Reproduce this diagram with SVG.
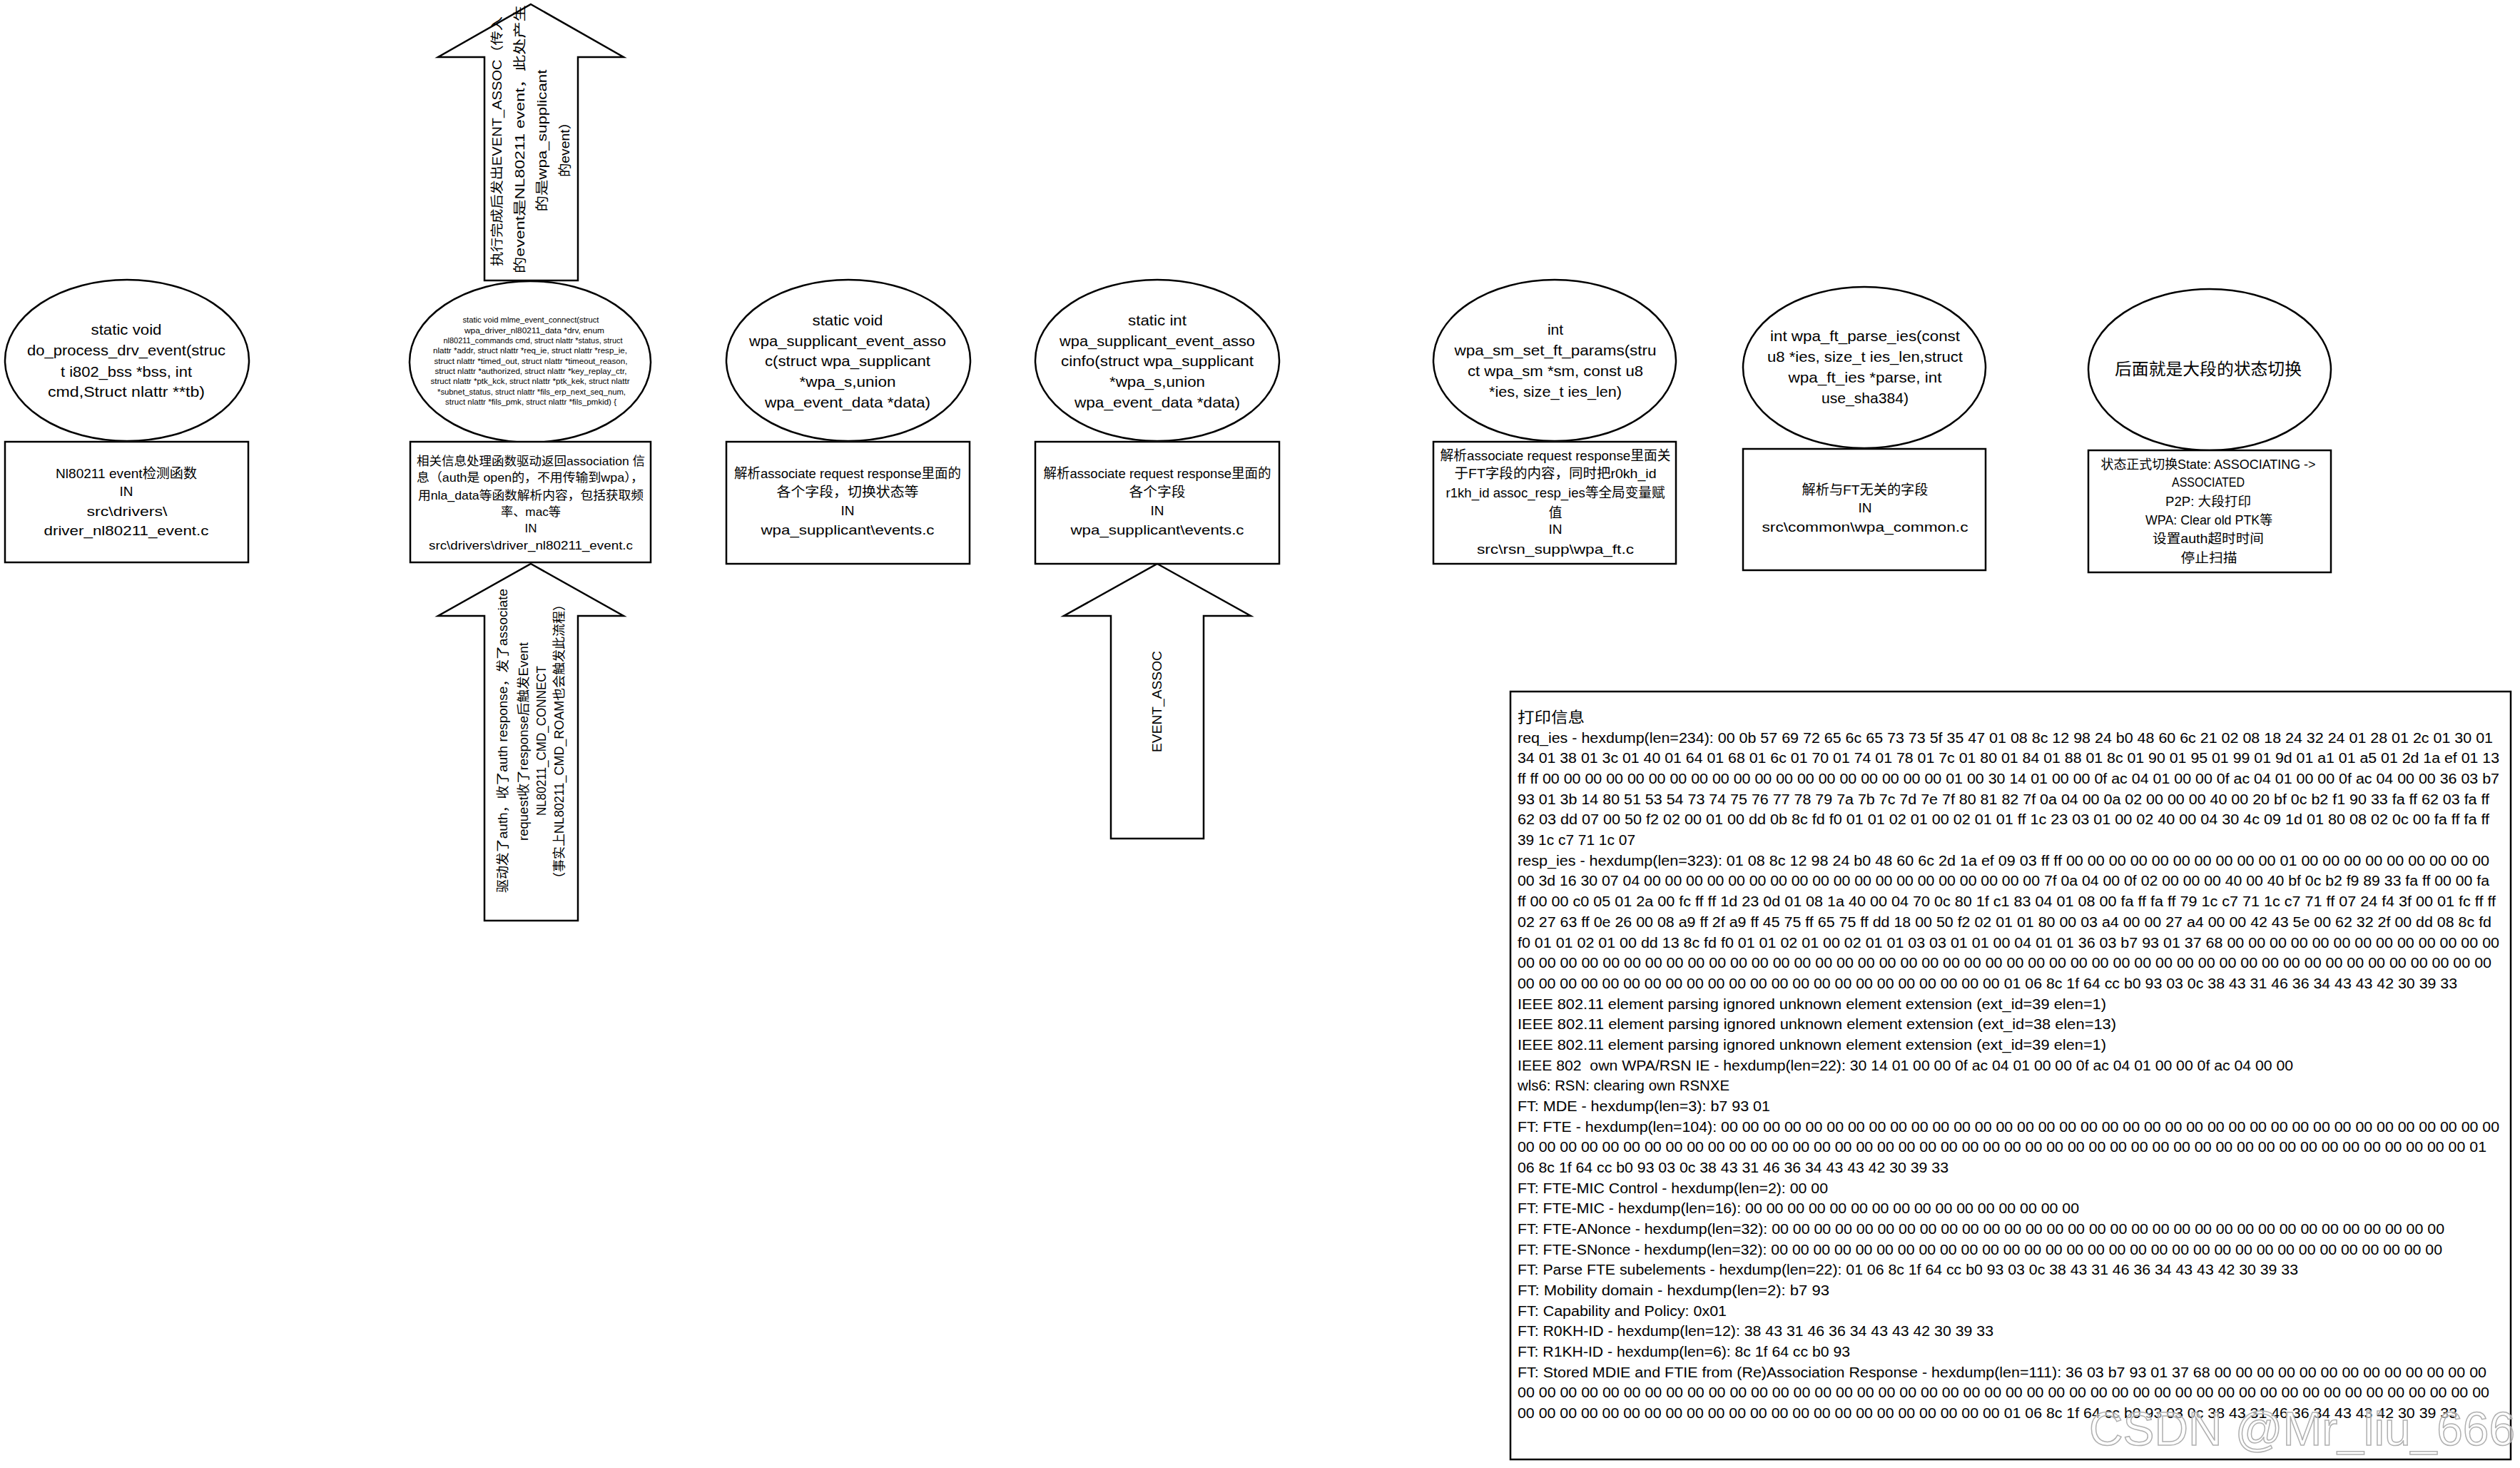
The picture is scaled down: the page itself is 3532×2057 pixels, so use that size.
<svg xmlns="http://www.w3.org/2000/svg" width="3532" height="2057" viewBox="0 0 3532 2057">
<style>
.sh{fill:#fff;stroke:#000;stroke-width:2.5}
text{font-family:"Liberation Sans","Noto Sans CJK SC",sans-serif;fill:#000}
.c{text-anchor:middle}
.e{font-size:21px}
.b{font-size:19px}
.s{font-size:11px}
.r{font-size:18px;text-anchor:middle;dominant-baseline:central}
.m{font-size:20px}
</style>
<rect width="3532" height="2057" fill="#fff"/>

<g id="connectors">
  <g id="arrow-up-top">
    <polygon class="sh" points="744,6 874,80 810,80 810,393 679,393 679,80 614,80"/>
    <text class="r" transform="translate(697,198) rotate(-90)" textLength="350" lengthAdjust="spacingAndGlyphs">执行完成后发出EVENT_ASSOC（传入</text>
    <text class="r" transform="translate(729,195) rotate(-90)" textLength="376" lengthAdjust="spacingAndGlyphs">的event是NL80211 event，此处产生</text>
    <text class="r" transform="translate(760,197) rotate(-90)" textLength="199" lengthAdjust="spacingAndGlyphs">的是wpa_supplicant</text>
    <text class="r" transform="translate(792,205) rotate(-90)" textLength="86" lengthAdjust="spacingAndGlyphs">的event）</text>
  </g>
  <g id="arrow-up-connect">
    <polygon class="sh" points="744,790 874,863 810,863 810,1290 679,1290 679,863 614,863"/>
    <text class="r" transform="translate(705,1038) rotate(-90)" textLength="426" lengthAdjust="spacingAndGlyphs">驱动发了auth，收了auth response，发了associate</text>
    <text class="r" transform="translate(734,1039) rotate(-90)" textLength="278" lengthAdjust="spacingAndGlyphs">request收了response后触发Event</text>
    <text class="r" transform="translate(759,1038) rotate(-90)" textLength="210" lengthAdjust="spacingAndGlyphs">NL80211_CMD_CONNECT</text>
    <text class="r" transform="translate(784,1039) rotate(-90)" textLength="402" lengthAdjust="spacingAndGlyphs">（事实上NL80211_CMD_ROAM也会触发此流程）</text>
  </g>
  <g id="arrow-up-assoc">
    <polygon class="sh" points="1622,790 1753,863 1687,863 1687,1175 1557,1175 1557,863 1491,863"/>
    <text class="r" transform="translate(1622,983) rotate(-90)" textLength="142" lengthAdjust="spacingAndGlyphs">EVENT_ASSOC</text>
  </g>
</g>

<g id="node-do-process">
  <ellipse class="sh" cx="178" cy="505" rx="171" ry="113"/>
  <text class="e c" x="177" y="469" textLength="99" lengthAdjust="spacingAndGlyphs">static void</text>
  <text class="e c" x="177" y="498" textLength="278" lengthAdjust="spacingAndGlyphs">do_process_drv_event(struc</text>
  <text class="e c" x="177" y="528" textLength="184" lengthAdjust="spacingAndGlyphs">t i802_bss *bss, int</text>
  <text class="e c" x="177" y="556" textLength="220" lengthAdjust="spacingAndGlyphs">cmd,Struct nlattr **tb)</text>
</g>
<g id="box-do-process">
  <rect class="sh" x="7" y="619" width="341" height="169"/>
  <text class="b c" x="177" y="670" textLength="198" lengthAdjust="spacingAndGlyphs">Nl80211 event检测函数</text>
  <text class="b c" x="177" y="695">IN</text>
  <text class="b c" x="178" y="723" textLength="113" lengthAdjust="spacingAndGlyphs">src\drivers\</text>
  <text class="b c" x="177" y="750" textLength="231" lengthAdjust="spacingAndGlyphs">driver_nl80211_event.c</text>
</g>

<g id="node-mlme-connect">
  <ellipse class="sh" cx="743" cy="507" rx="169" ry="113"/>
  <text class="s c" x="744" y="452" textLength="191" lengthAdjust="spacingAndGlyphs">static void mlme_event_connect(struct</text>
  <text class="s c" x="749" y="467" textLength="196" lengthAdjust="spacingAndGlyphs">wpa_driver_nl80211_data *drv, enum</text>
  <text class="s c" x="747" y="481" textLength="251" lengthAdjust="spacingAndGlyphs">nl80211_commands cmd, struct nlattr *status, struct</text>
  <text class="s c" x="743" y="495" textLength="272" lengthAdjust="spacingAndGlyphs">nlattr *addr, struct nlattr *req_ie, struct nlattr *resp_ie,</text>
  <text class="s c" x="744" y="510" textLength="271" lengthAdjust="spacingAndGlyphs">struct nlattr *timed_out, struct nlattr *timeout_reason,</text>
  <text class="s c" x="744" y="524" textLength="269" lengthAdjust="spacingAndGlyphs">struct nlattr *authorized, struct nlattr *key_replay_ctr,</text>
  <text class="s c" x="743" y="538" textLength="279" lengthAdjust="spacingAndGlyphs">struct nlattr *ptk_kck, struct nlattr *ptk_kek, struct nlattr</text>
  <text class="s c" x="745" y="553" textLength="264" lengthAdjust="spacingAndGlyphs">*subnet_status, struct nlattr *fils_erp_next_seq_num,</text>
  <text class="s c" x="744" y="567" textLength="240" lengthAdjust="spacingAndGlyphs">struct nlattr *fils_pmk, struct nlattr *fils_pmkid) {</text>
</g>
<g id="box-mlme-connect">
  <rect class="sh" x="575" y="619" width="337" height="169"/>
  <text class="c" style="font-size:17px" x="744" y="652" textLength="320" lengthAdjust="spacingAndGlyphs">相关信息处理函数驱动返回association 信</text>
  <text class="c" style="font-size:17px" x="743" y="675" textLength="318" lengthAdjust="spacingAndGlyphs">息（auth是 open的，不用传输到wpa），</text>
  <text class="c" style="font-size:17px" x="744" y="700" textLength="316" lengthAdjust="spacingAndGlyphs">用nla_data等函数解析内容，包括获取频</text>
  <text class="c" style="font-size:17px" x="744" y="723" textLength="84" lengthAdjust="spacingAndGlyphs">率、mac等</text>
  <text class="c" style="font-size:17px" x="744" y="746">IN</text>
  <text class="c" style="font-size:17px" x="744" y="770" textLength="286" lengthAdjust="spacingAndGlyphs">src\drivers\driver_nl80211_event.c</text>
</g>

<g id="node-event-assoc">
  <ellipse class="sh" cx="1189" cy="505" rx="171" ry="113"/>
  <text class="e c" x="1188" y="456" textLength="99" lengthAdjust="spacingAndGlyphs">static void</text>
  <text class="e c" x="1188" y="485" textLength="276" lengthAdjust="spacingAndGlyphs">wpa_supplicant_event_asso</text>
  <text class="e c" x="1188" y="513" textLength="232" lengthAdjust="spacingAndGlyphs">c(struct wpa_supplicant</text>
  <text class="e c" x="1188" y="542" textLength="135" lengthAdjust="spacingAndGlyphs">*wpa_s,union</text>
  <text class="e c" x="1188" y="571" textLength="232" lengthAdjust="spacingAndGlyphs">wpa_event_data *data)</text>
</g>
<g id="box-event-assoc">
  <rect class="sh" x="1018" y="619" width="341" height="171"/>
  <text class="b c" x="1188" y="670" textLength="318" lengthAdjust="spacingAndGlyphs">解析associate request response里面的</text>
  <text class="b c" x="1188" y="696" textLength="199" lengthAdjust="spacingAndGlyphs">各个字段，切换状态等</text>
  <text class="b c" x="1188" y="722">IN</text>
  <text class="b c" x="1188" y="749" textLength="243" lengthAdjust="spacingAndGlyphs">wpa_supplicant\events.c</text>
</g>

<g id="node-event-associnfo">
  <ellipse class="sh" cx="1622" cy="505" rx="171" ry="113"/>
  <text class="e c" x="1622" y="456" textLength="82" lengthAdjust="spacingAndGlyphs">static int</text>
  <text class="e c" x="1622" y="485" textLength="274" lengthAdjust="spacingAndGlyphs">wpa_supplicant_event_asso</text>
  <text class="e c" x="1622" y="513" textLength="270" lengthAdjust="spacingAndGlyphs">cinfo(struct wpa_supplicant</text>
  <text class="e c" x="1622" y="542" textLength="134" lengthAdjust="spacingAndGlyphs">*wpa_s,union</text>
  <text class="e c" x="1622" y="571" textLength="232" lengthAdjust="spacingAndGlyphs">wpa_event_data *data)</text>
</g>
<g id="box-event-associnfo">
  <rect class="sh" x="1451" y="619" width="342" height="171"/>
  <text class="b c" x="1622" y="670" textLength="319" lengthAdjust="spacingAndGlyphs">解析associate request response里面的</text>
  <text class="b c" x="1622" y="696" textLength="79" lengthAdjust="spacingAndGlyphs">各个字段</text>
  <text class="b c" x="1622" y="722">IN</text>
  <text class="b c" x="1622" y="749" textLength="243" lengthAdjust="spacingAndGlyphs">wpa_supplicant\events.c</text>
</g>

<g id="node-set-ft-params">
  <ellipse class="sh" cx="2179" cy="505" rx="170" ry="113"/>
  <text class="e c" x="2180" y="469">int</text>
  <text class="e c" x="2180" y="498" textLength="283" lengthAdjust="spacingAndGlyphs">wpa_sm_set_ft_params(stru</text>
  <text class="e c" x="2180" y="527" textLength="246" lengthAdjust="spacingAndGlyphs">ct wpa_sm *sm, const u8</text>
  <text class="e c" x="2180" y="556" textLength="186" lengthAdjust="spacingAndGlyphs">*ies, size_t ies_len)</text>
</g>
<g id="box-set-ft-params">
  <rect class="sh" x="2009" y="619" width="340" height="171"/>
  <text class="b c" x="2180" y="645" textLength="323" lengthAdjust="spacingAndGlyphs">解析associate request response里面关</text>
  <text class="b c" x="2180" y="670" textLength="283" lengthAdjust="spacingAndGlyphs">于FT字段的内容，同时把r0kh_id</text>
  <text class="b c" x="2180" y="697" textLength="307" lengthAdjust="spacingAndGlyphs">r1kh_id assoc_resp_ies等全局变量赋</text>
  <text class="b c" x="2180" y="725">值</text>
  <text class="b c" x="2180" y="748">IN</text>
  <text class="b c" x="2180" y="776" textLength="220" lengthAdjust="spacingAndGlyphs">src\rsn_supp\wpa_ft.c</text>
</g>

<g id="node-ft-parse-ies">
  <ellipse class="sh" cx="2613" cy="515" rx="170" ry="113"/>
  <text class="e c" x="2614" y="478" textLength="266" lengthAdjust="spacingAndGlyphs">int wpa_ft_parse_ies(const</text>
  <text class="e c" x="2614" y="507" textLength="274" lengthAdjust="spacingAndGlyphs">u8 *ies, size_t ies_len,struct</text>
  <text class="e c" x="2614" y="536" textLength="215" lengthAdjust="spacingAndGlyphs">wpa_ft_ies *parse, int</text>
  <text class="e c" x="2614" y="565" textLength="122" lengthAdjust="spacingAndGlyphs">use_sha384)</text>
</g>
<g id="box-ft-parse-ies">
  <rect class="sh" x="2443" y="629" width="340" height="170"/>
  <text class="b c" x="2614" y="693" textLength="177" lengthAdjust="spacingAndGlyphs">解析与FT无关的字段</text>
  <text class="b c" x="2614" y="718">IN</text>
  <text class="b c" x="2614" y="745" textLength="289" lengthAdjust="spacingAndGlyphs">src\common\wpa_common.c</text>
</g>

<g id="node-state-switch">
  <ellipse class="sh" cx="3097" cy="518" rx="170" ry="113"/>
  <text class="c" style="font-size:23px" x="3095" y="525" textLength="262" lengthAdjust="spacingAndGlyphs">后面就是大段的状态切换</text>
</g>
<g id="box-state-switch">
  <rect class="sh" x="2927" y="631" width="340" height="171"/>
  <text class="c" style="font-size:18px" x="3095" y="657" textLength="301" lengthAdjust="spacingAndGlyphs">状态正式切换State: ASSOCIATING -&gt;</text>
  <text class="c" style="font-size:18px" x="3095" y="682" textLength="102" lengthAdjust="spacingAndGlyphs">ASSOCIATED</text>
  <text class="c" style="font-size:18px" x="3095" y="709" textLength="120" lengthAdjust="spacingAndGlyphs">P2P: 大段打印</text>
  <text class="c" style="font-size:18px" x="3096" y="735" textLength="178" lengthAdjust="spacingAndGlyphs">WPA: Clear old PTK等</text>
  <text class="c" style="font-size:18px" x="3095" y="761" textLength="156" lengthAdjust="spacingAndGlyphs">设置auth超时时间</text>
  <text class="c" style="font-size:18px" x="3096" y="788" textLength="79" lengthAdjust="spacingAndGlyphs">停止扫描</text>
</g>

<g id="log-box">
  <rect class="sh" x="2117" y="969" width="1402" height="1076"/>
  <text style="font-size:21px" x="2127" y="1012" textLength="94" lengthAdjust="spacingAndGlyphs">打印信息</text>
  <text class="m" x="2127" y="1040.7" textLength="1367" lengthAdjust="spacingAndGlyphs">req_ies - hexdump(len=234): 00 0b 57 69 72 65 6c 65 73 73 5f 35 47 01 08 8c 12 98 24 b0 48 60 6c 21 02 08 18 24 32 24 01 28 01 2c 01 30 01</text>
  <text class="m" x="2127" y="1069.4" textLength="1376" lengthAdjust="spacingAndGlyphs">34 01 38 01 3c 01 40 01 64 01 68 01 6c 01 70 01 74 01 78 01 7c 01 80 01 84 01 88 01 8c 01 90 01 95 01 99 01 9d 01 a1 01 a5 01 2d 1a ef 01 13</text>
  <text class="m" x="2127" y="1098" textLength="1376" lengthAdjust="spacingAndGlyphs">ff ff 00 00 00 00 00 00 00 00 00 00 00 00 00 00 00 00 00 00 00 01 00 30 14 01 00 00 0f ac 04 01 00 00 0f ac 04 01 00 00 0f ac 04 00 00 36 03 b7</text>
  <text class="m" x="2127" y="1126.7" textLength="1362" lengthAdjust="spacingAndGlyphs">93 01 3b 14 80 51 53 54 73 74 75 76 77 78 79 7a 7b 7c 7d 7e 7f 80 81 82 7f 0a 04 00 0a 02 00 00 00 40 00 20 bf 0c b2 f1 90 33 fa ff 62 03 fa ff</text>
  <text class="m" x="2127" y="1155.4" textLength="1362" lengthAdjust="spacingAndGlyphs">62 03 dd 07 00 50 f2 02 00 01 00 dd 0b 8c fd f0 01 01 02 01 00 02 01 01 ff 1c 23 03 01 00 02 40 00 04 30 4c 09 1d 01 80 08 02 0c 00 fa ff fa ff</text>
  <text class="m" x="2127" y="1184.1" textLength="165" lengthAdjust="spacingAndGlyphs">39 1c c7 71 1c 07</text>
  <text class="m" x="2127" y="1212.8" textLength="1362" lengthAdjust="spacingAndGlyphs">resp_ies - hexdump(len=323): 01 08 8c 12 98 24 b0 48 60 6c 2d 1a ef 09 03 ff ff 00 00 00 00 00 00 00 00 00 00 01 00 00 00 00 00 00 00 00 00</text>
  <text class="m" x="2127" y="1241.4" textLength="1362" lengthAdjust="spacingAndGlyphs">00 3d 16 30 07 04 00 00 00 00 00 00 00 00 00 00 00 00 00 00 00 00 00 00 00 7f 0a 04 00 0f 02 00 00 00 40 00 40 bf 0c b2 f9 89 33 fa ff 00 00 fa</text>
  <text class="m" x="2127" y="1270.1" textLength="1371" lengthAdjust="spacingAndGlyphs">ff 00 00 c0 05 01 2a 00 fc ff ff 1d 23 0d 01 08 1a 40 00 04 70 0c 80 1f c1 83 04 01 08 00 fa ff fa ff 79 1c c7 71 1c c7 71 ff 07 24 f4 3f 00 01 fc ff ff</text>
  <text class="m" x="2127" y="1298.8" textLength="1365" lengthAdjust="spacingAndGlyphs">02 27 63 ff 0e 26 00 08 a9 ff 2f a9 ff 45 75 ff 65 75 ff dd 18 00 50 f2 02 01 01 80 00 03 a4 00 00 27 a4 00 00 42 43 5e 00 62 32 2f 00 dd 08 8c fd</text>
  <text class="m" x="2127" y="1327.5" textLength="1376" lengthAdjust="spacingAndGlyphs">f0 01 01 02 01 00 dd 13 8c fd f0 01 01 02 01 00 02 01 01 03 03 01 01 00 04 01 01 36 03 b7 93 01 37 68 00 00 00 00 00 00 00 00 00 00 00 00 00</text>
  <text class="m" x="2127" y="1356.2" textLength="1365" lengthAdjust="spacingAndGlyphs">00 00 00 00 00 00 00 00 00 00 00 00 00 00 00 00 00 00 00 00 00 00 00 00 00 00 00 00 00 00 00 00 00 00 00 00 00 00 00 00 00 00 00 00 00 00</text>
  <text class="m" x="2127" y="1384.8" textLength="1317" lengthAdjust="spacingAndGlyphs">00 00 00 00 00 00 00 00 00 00 00 00 00 00 00 00 00 00 00 00 00 00 00 01 06 8c 1f 64 cc b0 93 03 0c 38 43 31 46 36 34 43 43 42 30 39 33</text>
  <text class="m" x="2127" y="1413.5" textLength="825" lengthAdjust="spacingAndGlyphs">IEEE 802.11 element parsing ignored unknown element extension (ext_id=39 elen=1)</text>
  <text class="m" x="2127" y="1442.2" textLength="839" lengthAdjust="spacingAndGlyphs">IEEE 802.11 element parsing ignored unknown element extension (ext_id=38 elen=13)</text>
  <text class="m" x="2127" y="1470.9" textLength="825" lengthAdjust="spacingAndGlyphs">IEEE 802.11 element parsing ignored unknown element extension (ext_id=39 elen=1)</text>
  <text class="m" x="2127" y="1499.6" textLength="1087" lengthAdjust="spacingAndGlyphs" xml:space="preserve">IEEE 802  own WPA/RSN IE - hexdump(len=22): 30 14 01 00 00 0f ac 04 01 00 00 0f ac 04 01 00 00 0f ac 04 00 00</text>
  <text class="m" x="2127" y="1528.2" textLength="297" lengthAdjust="spacingAndGlyphs">wls6: RSN: clearing own RSNXE</text>
  <text class="m" x="2127" y="1556.9" textLength="354" lengthAdjust="spacingAndGlyphs">FT: MDE - hexdump(len=3): b7 93 01</text>
  <text class="m" x="2127" y="1585.6" textLength="1376" lengthAdjust="spacingAndGlyphs">FT: FTE - hexdump(len=104): 00 00 00 00 00 00 00 00 00 00 00 00 00 00 00 00 00 00 00 00 00 00 00 00 00 00 00 00 00 00 00 00 00 00 00 00 00</text>
  <text class="m" x="2127" y="1614.3" textLength="1358" lengthAdjust="spacingAndGlyphs">00 00 00 00 00 00 00 00 00 00 00 00 00 00 00 00 00 00 00 00 00 00 00 00 00 00 00 00 00 00 00 00 00 00 00 00 00 00 00 00 00 00 00 00 00 01</text>
  <text class="m" x="2127" y="1643" textLength="604" lengthAdjust="spacingAndGlyphs">06 8c 1f 64 cc b0 93 03 0c 38 43 31 46 36 34 43 43 42 30 39 33</text>
  <text class="m" x="2127" y="1671.6" textLength="435" lengthAdjust="spacingAndGlyphs">FT: FTE-MIC Control - hexdump(len=2): 00 00</text>
  <text class="m" x="2127" y="1700.3" textLength="787" lengthAdjust="spacingAndGlyphs">FT: FTE-MIC - hexdump(len=16): 00 00 00 00 00 00 00 00 00 00 00 00 00 00 00 00</text>
  <text class="m" x="2127" y="1729" textLength="1299" lengthAdjust="spacingAndGlyphs">FT: FTE-ANonce - hexdump(len=32): 00 00 00 00 00 00 00 00 00 00 00 00 00 00 00 00 00 00 00 00 00 00 00 00 00 00 00 00 00 00 00 00</text>
  <text class="m" x="2127" y="1757.7" textLength="1296" lengthAdjust="spacingAndGlyphs">FT: FTE-SNonce - hexdump(len=32): 00 00 00 00 00 00 00 00 00 00 00 00 00 00 00 00 00 00 00 00 00 00 00 00 00 00 00 00 00 00 00 00</text>
  <text class="m" x="2127" y="1786.4" textLength="1094" lengthAdjust="spacingAndGlyphs">FT: Parse FTE subelements - hexdump(len=22): 01 06 8c 1f 64 cc b0 93 03 0c 38 43 31 46 36 34 43 43 42 30 39 33</text>
  <text class="m" x="2127" y="1815" textLength="437" lengthAdjust="spacingAndGlyphs">FT: Mobility domain - hexdump(len=2): b7 93</text>
  <text class="m" x="2127" y="1843.7" textLength="293" lengthAdjust="spacingAndGlyphs">FT: Capability and Policy: 0x01</text>
  <text class="m" x="2127" y="1872.4" textLength="667" lengthAdjust="spacingAndGlyphs">FT: R0KH-ID - hexdump(len=12): 38 43 31 46 36 34 43 43 42 30 39 33</text>
  <text class="m" x="2127" y="1901.1" textLength="466" lengthAdjust="spacingAndGlyphs">FT: R1KH-ID - hexdump(len=6): 8c 1f 64 cc b0 93</text>
  <text class="m" x="2127" y="1929.8" textLength="1358" lengthAdjust="spacingAndGlyphs">FT: Stored MDIE and FTIE from (Re)Association Response - hexdump(len=111): 36 03 b7 93 01 37 68 00 00 00 00 00 00 00 00 00 00 00 00 00</text>
  <text class="m" x="2127" y="1958.4" textLength="1362" lengthAdjust="spacingAndGlyphs">00 00 00 00 00 00 00 00 00 00 00 00 00 00 00 00 00 00 00 00 00 00 00 00 00 00 00 00 00 00 00 00 00 00 00 00 00 00 00 00 00 00 00 00 00 00</text>
  <text class="m" x="2127" y="1987.1" textLength="1317" lengthAdjust="spacingAndGlyphs">00 00 00 00 00 00 00 00 00 00 00 00 00 00 00 00 00 00 00 00 00 00 00 01 06 8c 1f 64 cc b0 93 03 0c 38 43 31 46 36 34 43 43 42 30 39 33</text>
</g>

<text x="2928" y="2025" style="font-size:66px;fill:#fff;fill-opacity:0.55;stroke:#b0b0b0;stroke-width:1.5" textLength="597" lengthAdjust="spacingAndGlyphs">CSDN @Mr_liu_666</text>
</svg>
